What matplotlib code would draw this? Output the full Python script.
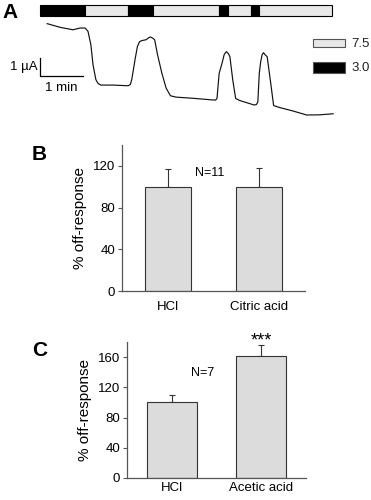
import numpy as np
import matplotlib.pyplot as plt
from matplotlib.patches import Rectangle

plt.rcParams['font.family'] = ['Liberation Sans', 'DejaVu Sans']

# panel A: pH stimulus sequence (s) and current trace
ph_edges = [0, 63, 123, 158, 250, 262, 294, 306, 407]
ph_values = [3.0, 7.5, 3.0, 7.5, 3.0, 7.5, 3.0, 7.5]
ph_colors = {3.0: 'black', 7.5: '#e8e8e8'}

trace_t = [10, 28, 46, 52, 56, 63, 67, 71, 74, 78, 81, 85, 102, 123,
           126, 128, 131, 133, 136, 139, 142, 148, 152, 154, 157, 160,
           164, 170, 176, 182, 190, 209, 241, 245, 247, 250, 254, 257,
           260, 263, 265, 269, 273, 278, 284, 299, 302, 304, 306, 308,
           310, 312, 314, 317, 322, 326, 335, 353, 372, 390, 409]
trace_i = [5.22, 5.01, 4.87, 4.93, 4.97, 4.97, 4.78, 4.02, 2.87, 2.02,
           1.80, 1.71, 1.71, 1.67, 1.74, 2.02, 2.75, 3.26, 3.92, 4.19,
           4.25, 4.30, 4.42, 4.46, 4.40, 4.30, 3.45, 2.40, 1.54, 1.10,
           1.02, 0.97, 0.86, 0.85, 0.95, 2.38, 2.95, 3.45, 3.62, 3.50,
           3.33, 2.00, 0.95, 0.84, 0.76, 0.57, 0.60, 0.75, 2.38, 3.05,
           3.45, 3.56, 3.45, 3.33, 1.81, 0.54, 0.42, 0.23, 0.0, 0.01,
           0.07]

# panel B
b_labels = ['HCl', 'Citric acid']
b_means = [100, 100]
b_err = [17, 18]

# panel C
c_labels = ['HCl', 'Acetic acid']
c_means = [100, 161]
c_err = [10, 15]

bar_gray = '#dcdcdc'
fs = 9.5

fig = plt.figure(figsize=(3.71, 5.0), dpi=100)

# ---- panel A
axA = fig.add_axes([0, 1 - 130 / 500, 1, 130 / 500])
axA.set_xlim(-55.8, 461.9)
axA.set_ylim(-0.857, 6.571)
axA.axis('off')

for k, ph in enumerate(ph_values):
    x0, x1 = ph_edges[k], ph_edges[k + 1]
    axA.add_patch(Rectangle((x0, 5.67), x1 - x0, 0.62, facecolor=ph_colors[ph],
                            edgecolor='black', lw=0.8))
axA.plot(trace_t, trace_i, color='#111111', lw=0.85, solid_joinstyle='round')

# scale bar
axA.plot([0, 0, 60], [3.25, 2.25, 2.25], color='black', lw=0.9)
axA.text(-3, 2.75, '1 µA', ha='right', va='center', fontsize=fs)
axA.text(30, 1.55, '1 min', ha='center', va='center', fontsize=fs)

# legend
for ph, yy, hh in [(7.5, 3.87, 0.5), (3.0, 2.42, 0.59)]:
    axA.add_patch(Rectangle((380.5, yy), 45, hh, facecolor=ph_colors[ph],
                            edgecolor='#555555', lw=0.8))
axA.text(434, 4.08, '7.5', ha='left', va='center', fontsize=fs, color='#222222')
axA.text(434, 2.71, '3.0', ha='left', va='center', fontsize=fs, color='#222222')


def bar_panel(ax, labels, means, err, width, ylim, yticks, xpad):
    x = np.arange(len(labels))
    ax.bar(x, means, width=width, color=bar_gray, edgecolor='#333333', lw=0.8,
           zorder=2)
    ax.errorbar(x, means, yerr=[np.zeros(len(err)), err], fmt='none',
                ecolor='#333333', elinewidth=0.8, capsize=2.5, capthick=0.8,
                zorder=1)
    ax.set_xlim(-0.5, 1.5)
    ax.set_ylim(*ylim)
    ax.set_yticks(yticks)
    ax.set_xticks(x)
    ax.set_xticklabels(labels, fontsize=fs)
    ax.tick_params(axis='x', length=0, pad=xpad)
    ax.tick_params(axis='y', length=3, width=0.8, labelsize=fs, pad=2,
                   color='#555555')
    for s in ['top', 'right']:
        ax.spines[s].set_visible(False)
    for s in ['left', 'bottom']:
        ax.spines[s].set_color('#555555')
        ax.spines[s].set_linewidth(0.9)
    ax.set_ylabel('% off-response', fontsize=11, labelpad=4)


# ---- panel B
axB = fig.add_axes([122 / 371, 1 - 291 / 500, 183 / 371, 146 / 500])
bar_panel(axB, b_labels, b_means, b_err, 0.5, (0, 140), [0, 40, 80, 120], 7)
axB.text(0.46, 113, 'N=11', ha='center', va='center', fontsize=9)

# ---- panel C
axC = fig.add_axes([127 / 371, 1 - 478 / 500, 179 / 371, 136 / 500])
bar_panel(axC, c_labels, c_means, c_err, 0.56, (0, 180),
          [0, 40, 80, 120, 160], 3)
axC.text(0.35, 139, 'N=7', ha='center', va='center', fontsize=9)
axC.text(1, 181, '***', ha='center', va='center', fontsize=13, clip_on=False)

# panel letters
fig.text(2 / 371, 1 - 12 / 500, 'A', fontsize=15, fontweight='bold',
         ha='left', va='center')
fig.text(32 / 371, 1 - 155 / 500, 'B', fontsize=15, fontweight='bold',
         ha='left', va='center')
fig.text(32 / 371, 1 - 350 / 500, 'C', fontsize=15, fontweight='bold',
         ha='left', va='center')

fig.savefig('out.png', dpi=100)
